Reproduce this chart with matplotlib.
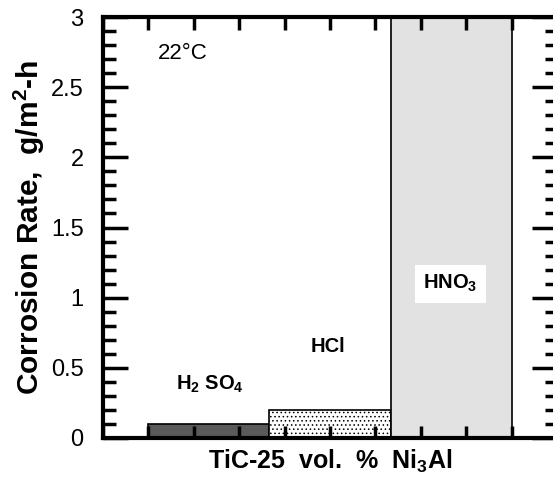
"""
Corrosion rate of TiC-25 vol.% Ni3Al in three acids at 22 C.
"""

import matplotlib

matplotlib.use("Agg")
import matplotlib.pyplot as plt
import numpy as np
from matplotlib.ticker import MultipleLocator

# ── Data ───────────────────────────────────────────────────────────────────

acids = ["H2SO4", "HCl", "HNO3"]
acid_labels = [r"H$_2$ SO$_4$", "HCl", r"HNO$_3$"]
rates = [0.10, 0.20, 3.0]  # g/m^2-h, HNO3 runs off the top of the scale

# ── Style ──────────────────────────────────────────────────────────────────

plt.rcParams.update(
    {
        "font.family": ["Liberation Sans", "DejaVu Sans"],
        "mathtext.default": "regular",
        "hatch.linewidth": 0.6,
    }
)

fig = plt.figure(figsize=(5.53, 4.87), dpi=100)
ax = fig.add_axes([103 / 553, 49 / 487, 454 / 553, 421 / 487])

# three equal-width bars filling the span 1..9 on a 0..10 axis
width = 8 / 3
lefts = 1 + width * np.arange(len(acids))
faces = ["#5a5a5a", "white", "#e2e2e2"]
hatches = [None, "....", None]

for x0, h, fc, hatch in zip(lefts, rates, faces, hatches):
    ax.bar(x0, h, width=width, align="edge", color=fc, edgecolor="black",
           linewidth=1.2, hatch=hatch)

ax.set_xlim(0, 10)
ax.set_ylim(0, 3)

# ticks: inward on all four sides, no x labels
ax.xaxis.set_major_locator(MultipleLocator(1))
ax.yaxis.set_major_locator(MultipleLocator(0.5))
ax.yaxis.set_minor_locator(MultipleLocator(0.1))
ax.yaxis.set_major_formatter(plt.FuncFormatter(lambda v, _: f"{v:g}"))
ax.tick_params(axis="both", which="both", direction="in", width=2.5,
               top=True, right=True)
ax.tick_params(axis="y", which="major", length=18, labelsize=17, pad=14)
ax.tick_params(axis="y", which="minor", length=9)
ax.tick_params(axis="x", which="major", length=9, labelbottom=False)

for sp in ax.spines.values():
    sp.set_linewidth(3)

# annotations
ax.text(1.2, 2.74, "22°C", fontsize=16, ha="left", va="center")
ax.text(2.35, 0.38, acid_labels[0], fontsize=14.5, fontweight="bold",
        ha="center", va="center")
ax.text(4.95, 0.65, acid_labels[1], fontsize=14.5, fontweight="bold",
        ha="center", va="center")
ax.text(7.65, 1.1, acid_labels[2], fontsize=14.5, fontweight="bold",
        ha="center", va="center",
        bbox=dict(facecolor="white", edgecolor="none", pad=6))

ax.set_ylabel(r"Corrosion Rate,  g/m$^2$-h", fontsize=21.5, fontweight="bold",
              labelpad=3)
ax.set_xlabel(r"TiC-25  vol.  %  Ni$_3$Al", fontsize=18, fontweight="bold",
              labelpad=7)

fig.savefig("out.png", dpi=100)
